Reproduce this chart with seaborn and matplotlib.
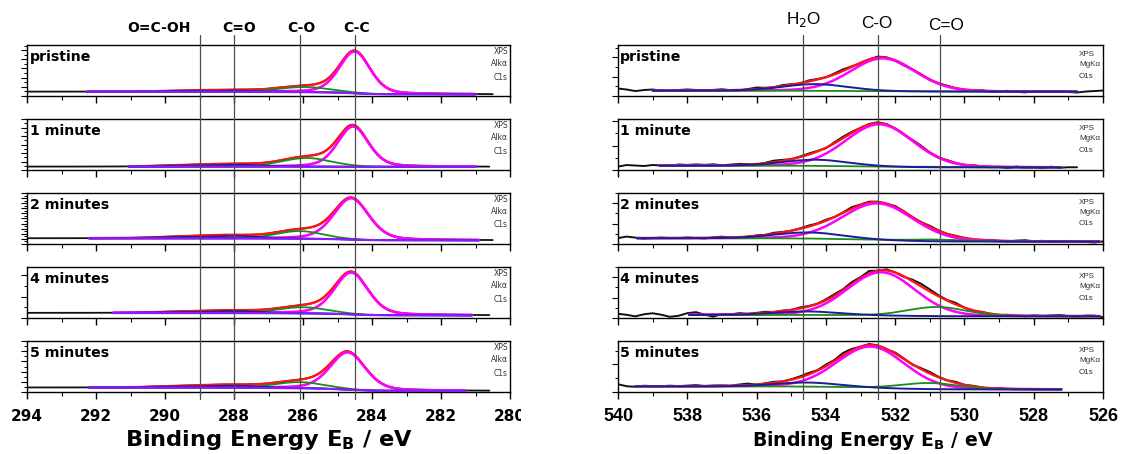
import numpy as np
import matplotlib
matplotlib.use("Agg")
import matplotlib.pyplot as plt
import seaborn as sns
from matplotlib.ticker import MultipleLocator
from matplotlib.transforms import blended_transform_factory
from matplotlib.patches import Rectangle

sns.set_theme(style="ticks")
plt.rcParams["font.family"] = ["DejaVu Sans"]
plt.rcParams["mathtext.fontset"] = "dejavusans"
plt.rcParams["text.color"] = "black"
plt.rcParams["axes.labelcolor"] = "black"
plt.rcParams["xtick.color"] = "black"
plt.rcParams["ytick.color"] = "black"
plt.rcParams["xtick.labelcolor"] = "black"

samples = ["pristine", "1 minute", "2 minutes", "4 minutes", "5 minutes"]

# ---------------- C 1s (Al Kα) ----------------
c1s_ticks = [294, 292, 290, 288, 286, 284, 282, 280]
c1s_refs = [289.0, 288.0, 286.1, 284.5]
c1s_ref_names = ["O=C-OH", "C=O", "C-O", "C-C"]

c1s_data_lo = [280.5, 280.6, 280.5, 280.6, 280.6]
c1s_data_hi = [294.0, 294.0, 294.0, 294.0, 294.0]
c1s_fit_lo = [281.0, 281.0, 280.9, 281.1, 281.3]
c1s_fit_hi = [292.25, 291.05, 292.2, 291.5, 292.2]
c1s_bg_high = [0.085, 0.066, 0.112, 0.100, 0.088]
c1s_bg_low = [0.032, 0.062, 0.072, 0.052, 0.022]

c1s_cc_center = [284.50, 284.55, 284.60, 284.60, 284.70]
c1s_cc_fwhm = [1.05, 1.05, 1.20, 1.15, 1.20]
c1s_cc_height = [0.82, 0.79, 0.81, 0.82, 0.73]
c1s_co_center = [285.95, 285.90, 286.10, 286.00, 286.10]
c1s_co_fwhm = [1.8, 1.7, 1.6, 1.7, 1.7]
c1s_co_height = [0.10, 0.17, 0.15, 0.12, 0.12]
c1s_cdo_center = [287.9, 287.9, 288.0, 288.0, 288.0]
c1s_cdo_fwhm = [1.6, 1.8, 1.8, 1.8, 1.8]
c1s_cdo_height = [0.025, 0.040, 0.050, 0.040, 0.045]
c1s_cooh_center = [289.0, 289.2, 289.3, 289.3, 289.3]
c1s_cooh_fwhm = [1.8, 2.0, 2.0, 2.0, 2.0]
c1s_cooh_height = [0.020, 0.025, 0.030, 0.020, 0.025]

# ---------------- O 1s (Mg Kα) ----------------
o1s_ticks = [540, 538, 536, 534, 532, 530, 528, 526]
o1s_refs = [534.65, 532.5, 530.7]

o1s_data_lo = [526.0, 526.6, 526.0, 526.0, 527.2]
o1s_data_hi = [540.0, 540.0, 540.0, 540.0, 540.0]
o1s_fit_lo = [526.75, 527.2, 526.1, 526.1, 527.2]
o1s_fit_hi = [539.0, 538.8, 539.45, 537.95, 539.5]
o1s_bg_high = [0.105, 0.085, 0.113, 0.060, 0.110]
o1s_bg_low = [0.085, 0.050, 0.047, 0.033, 0.050]

o1s_co_center = [532.35, 532.45, 532.50, 532.40, 532.70]
o1s_co_fwhm = [2.2, 2.3, 2.4, 2.3, 2.3]
o1s_co_height = [0.645, 0.83, 0.72, 0.85, 0.81]
o1s_h2o_center = [534.30, 534.30, 534.50, 534.55, 534.55]
o1s_h2o_fwhm = [2.2, 2.2, 2.3, 2.2, 2.2]
o1s_h2o_height = [0.13, 0.12, 0.12, 0.07, 0.08]
o1s_cdo_center = [530.7, 530.8, 530.8, 530.8, 531.0]
o1s_cdo_fwhm = [2.0, 2.0, 2.2, 2.0, 2.0]
o1s_cdo_height = [0.008, 0.010, 0.035, 0.18, 0.12]

# measured-minus-fit scatter of the O 1s counts, 0.25 eV steps from 540 eV down
o1s_residual = [
    [0.04, 0.02, -0.01, 0.01, 0.02, 0.00, -0.01, 0.01, 0.02, 0.01,
     0.00, 0.01, 0.02, 0.00, -0.01, 0.01, 0.03, 0.01, 0.00, 0.02,
     0.01, -0.01, 0.02, 0.01, 0.00, 0.02, 0.03, 0.01, -0.01, 0.00,
     0.02, 0.01, -0.01, -0.02, 0.00, 0.01, -0.01, 0.00, 0.01, 0.00,
     -0.01, 0.00, 0.01, -0.01, 0.00, 0.01, -0.01, -0.02, 0.00, 0.01,
     -0.01, 0.00, -0.01, -0.02, 0.00, 0.01, 0.02],
    [-0.02, 0.01, 0.00, -0.01, 0.01, 0.00, -0.01, 0.02, 0.01, 0.02,
     0.01, 0.02, 0.00, 0.01, 0.02, 0.01, -0.01, 0.01, 0.03, 0.02,
     0.00, 0.01, 0.02, 0.01, -0.01, 0.02, 0.03, 0.02, 0.00, 0.01,
     0.02, 0.01, 0.00, -0.01, 0.01, 0.02, 0.00, -0.01, 0.01, 0.00,
     -0.01, 0.01, 0.00, -0.01, 0.00, -0.02, 0.01, -0.01, 0.00, -0.02,
     0.01, -0.01, 0.00, 0.00, 0.00, 0.00, 0.00],
    [0.00, 0.03, 0.01, -0.01, 0.00, 0.01, 0.00, 0.00, 0.01, 0.00,
     -0.01, 0.01, 0.02, 0.00, -0.01, 0.00, 0.01, 0.00, 0.02, 0.01,
     0.00, 0.01, 0.02, 0.01, 0.02, 0.00, 0.01, 0.03, 0.01, 0.02,
     0.01, 0.00, 0.02, 0.01, -0.01, 0.00, 0.02, 0.01, 0.00, 0.01,
     0.00, -0.01, 0.00, 0.01, 0.00, -0.01, 0.01, 0.02, 0.00, 0.01,
     -0.01, 0.00, 0.01, 0.00, -0.01, -0.02, 0.00],
    [0.02, 0.00, -0.03, 0.01, 0.03, 0.00, -0.04, -0.02, 0.03, 0.05,
     0.00, -0.04, 0.01, 0.00, 0.02, 0.00, 0.01, 0.02, 0.00, 0.01,
     0.00, 0.02, 0.01, 0.00, 0.02, 0.03, 0.02, 0.04, 0.02, 0.05,
     0.00, 0.02, 0.00, -0.01, 0.03, 0.05, 0.04, 0.02, 0.01, 0.03,
     0.00, -0.01, 0.01, 0.00, -0.01, 0.01, 0.00, -0.01, 0.01, 0.00,
     0.01, 0.02, 0.00, -0.01, 0.01, 0.01, -0.02],
    [0.04, 0.00, -0.01, 0.01, 0.00, 0.00, 0.01, 0.00, 0.01, 0.02,
     0.00, 0.01, 0.01, 0.00, 0.02, 0.03, 0.00, 0.01, 0.02, 0.00,
     0.01, 0.02, 0.03, 0.01, 0.03, 0.02, 0.05, 0.03, 0.00, 0.02,
     0.01, -0.01, 0.02, 0.01, -0.01, 0.02, 0.03, 0.01, 0.00, 0.02,
     0.00, 0.01, 0.00, -0.01, 0.01, 0.00, 0.00, 0.00, 0.00, 0.00,
     0.00, 0.00, 0.00, 0.00, 0.00, 0.00, 0.00],
]

c1s_ystep = [0.18, 0.166, 0.10, 0.42, 0.20]
o1s_ystep = [0.38, 0.48, 0.40, 0.40, 0.54]

COL = dict(data="#111111", env="#ff1414", main="#ff00ff", green="#1a8c1a",
           blue="#1c1c96", purple="#8a1aff")

W, H = 1121, 454
fig = plt.figure(figsize=(W / 100, H / 100), dpi=100)
fig.patch.set_facecolor("white")

tops = [45, 119, 193, 267, 341]
ph = 51
cols = {"c1s": (27, 483), "o1s": (618, 485)}


def peak(x, c, w, h, m):
    u = (x - c) / w
    return h * ((1 - m) * np.exp(-4 * np.log(2) * u ** 2) + m / (1 + 4 * u ** 2))


def shirley(signal, b_low, b_high):
    cum = np.cumsum(signal)
    return b_low + (b_high - b_low) * cum / cum[-1]


def style_axes(ax, xlim, ticks, ystep, last, fam, tsize, pad):
    ax.set_xlim(*xlim)
    ax.set_ylim(0, 1)
    ax.set_facecolor("white")
    for s in ax.spines.values():
        s.set_visible(True)
        s.set_color("black")
        s.set_linewidth(1.0)
    ax.set_xticks(ticks)
    if last:
        ax.set_xticklabels([str(t) for t in ticks], fontsize=tsize,
                           fontweight="bold", family=fam, color="black")
    else:
        ax.set_xticklabels([])
    ax.xaxis.set_minor_locator(MultipleLocator(1))
    ax.yaxis.set_major_locator(MultipleLocator(ystep))
    ax.yaxis.set_minor_locator(MultipleLocator(ystep / 2))
    ax.tick_params(axis="x", which="major", direction="out", length=5,
                   width=1.0, color="black", bottom=True, top=False, pad=pad)
    ax.tick_params(axis="x", which="minor", direction="out", length=3,
                   width=0.8, color="black", bottom=True, top=False)
    ax.tick_params(axis="y", which="major", direction="out", length=4,
                   width=0.8, color="black", left=True, labelleft=False)
    ax.tick_params(axis="y", which="minor", direction="out", length=2,
                   width=0.7, color="black", left=True)
    ax.set_xlabel("")
    ax.set_ylabel("")
    ax.grid(False)


def line(ax, x, y, color, lw, z):
    sns.lineplot(x=x, y=y, ax=ax, color=color, linewidth=lw, zorder=z,
                 sort=False, estimator=None)


# ---------------- C 1s column ----------------
x0, w = cols["c1s"]
for i, name in enumerate(samples):
    ax = fig.add_axes([x0 / W, 1 - (tops[i] + ph) / H, w / W, ph / H])
    x = np.round(np.arange(c1s_data_lo[i], c1s_data_hi[i] + 1e-6, 0.05), 3)
    cc = peak(x, c1s_cc_center[i], c1s_cc_fwhm[i], c1s_cc_height[i], 0.3)
    co = peak(x, c1s_co_center[i], c1s_co_fwhm[i], c1s_co_height[i], 0.1)
    cdo = peak(x, c1s_cdo_center[i], c1s_cdo_fwhm[i], c1s_cdo_height[i], 0.1)
    cooh = peak(x, c1s_cooh_center[i], c1s_cooh_fwhm[i], c1s_cooh_height[i], 0.1)
    total = cc + co + cdo + cooh
    bg = shirley(total, c1s_bg_low[i], c1s_bg_high[i])
    env = bg + total
    fit = (x >= c1s_fit_lo[i]) & (x <= c1s_fit_hi[i])
    line(ax, x, env, COL["data"], 1.3, 2)
    xf = x[fit]
    line(ax, xf, env[fit], COL["env"], 1.7, 3)
    line(ax, xf, (bg + cc)[fit], COL["main"], 1.9, 4)
    line(ax, xf, (bg + co)[fit], COL["green"], 1.3, 5)
    line(ax, xf, (bg + cdo)[fit], COL["blue"], 1.2, 5)
    line(ax, xf, (bg + cooh)[fit], COL["blue"], 1.2, 5)
    line(ax, xf, bg[fit], COL["purple"], 1.6, 6)
    style_axes(ax, (294, 280), c1s_ticks, c1s_ystep[i], i == 4,
               "DejaVu Sans", 11, 7.5)
    ax.text(3 / w, 1 - 5 / ph, name, transform=ax.transAxes, ha="left",
            va="top", fontsize=10.2, fontweight="bold", color="black", zorder=8)
    for k, s in enumerate(["XPS", "Alkα", "C1s"]):
        ax.text(1 - 2 / w, 1 - (6 + 13 * k) / ph, s, transform=ax.transAxes,
                ha="right", va="center", fontsize=5.5, color="#333333", zorder=8)

# ---------------- O 1s column ----------------
x0, w = cols["o1s"]
for i, name in enumerate(samples):
    ax = fig.add_axes([x0 / W, 1 - (tops[i] + ph) / H, w / W, ph / H])
    x = np.round(526.0 + 0.05 * np.arange(281), 3)
    co = peak(x, o1s_co_center[i], o1s_co_fwhm[i], o1s_co_height[i], 0.1)
    h2o = peak(x, o1s_h2o_center[i], o1s_h2o_fwhm[i], o1s_h2o_height[i], 0.1)
    cdo = peak(x, o1s_cdo_center[i], o1s_cdo_fwhm[i], o1s_cdo_height[i], 0.1)
    total = co + h2o + cdo
    bg = shirley(total, o1s_bg_low[i], o1s_bg_high[i])
    env = bg + total
    # measured counts every 0.25 eV (every fifth grid point), high BE first
    idx = np.arange(280, -1, -5)
    xm = x[idx]
    ym = env[idx] + np.array(o1s_residual[i])
    keep = (xm >= o1s_data_lo[i] - 1e-6) & (xm <= o1s_data_hi[i] + 1e-6)
    line(ax, xm[keep], ym[keep], COL["data"], 1.4, 2)
    fit = (x >= o1s_fit_lo[i]) & (x <= o1s_fit_hi[i])
    xf = x[fit]
    line(ax, xf, env[fit], COL["env"], 1.7, 3)
    line(ax, xf, (bg + co)[fit], COL["main"], 1.8, 4)
    line(ax, xf, (bg + cdo)[fit], COL["green"], 1.3, 5)
    line(ax, xf, (bg + h2o)[fit], COL["blue"], 1.4, 6)
    style_axes(ax, (540, 526), o1s_ticks, o1s_ystep[i], i == 4,
               "Liberation Sans", 13, 6.5)
    ax.text(2 / w, 1 - 5 / ph, name, transform=ax.transAxes, ha="left",
            va="top", fontsize=10.2, fontweight="bold", color="black", zorder=8)
    for k, s in enumerate(["XPS", "MgKα", "O1s"]):
        ax.text((1079 - x0) / w, 1 - (9 + 11 * k) / ph, s,
                transform=ax.transAxes, ha="left", va="center",
                fontsize=5.8, color="#333333", family="Liberation Sans", zorder=8)

# ---------------- reference lines and peak labels ----------------
line_top, line_bot = 35, 400
for key, xlim, refs in [("c1s", (294, 280), c1s_refs), ("o1s", (540, 526), o1s_refs)]:
    x0, w = cols[key]
    ov = fig.add_axes([x0 / W, 1 - line_bot / H, w / W, (line_bot - line_top) / H],
                      zorder=5)
    ov.set_xlim(*xlim)
    ov.set_ylim(0, 1)
    ov.axis("off")
    ov.patch.set_alpha(0)
    for r in refs:
        ov.axvline(r, color="#4d4d4d", linewidth=0.9)

tr_l = blended_transform_factory(fig.axes[-2].transData, fig.transFigure)
c1s_label_x = [290.17, 287.86, 286.04, 284.45]
for xl, lab in zip(c1s_label_x, c1s_ref_names):
    fig.text(xl, 1 - 32 / H, lab, transform=tr_l, ha="center", va="baseline",
             fontsize=10, fontweight="bold", color="black")

tr_r = blended_transform_factory(fig.axes[-1].transData, fig.transFigure)
o1s_label_x = [534.63, 532.52, 530.53]
o1s_label_y = [24, 27.5, 30.5]
for xl, yl, lab in zip(o1s_label_x, o1s_label_y, ["H$_2$O", "C-O", "C=O"]):
    fig.text(xl, 1 - yl / H, lab, transform=tr_r, ha="center", va="baseline",
             fontsize=12.3, color="black", family="Liberation Sans")

# axis titles
fig.text(269 / W, 1 - 446 / H, r"Binding Energy $\mathbf{E}_\mathbf{B}$ / eV",
         ha="center", va="baseline", fontsize=16.2, fontweight="bold", color="black")
fig.text(873 / W, 1 - 446 / H, r"Binding Energy $\mathbf{E}_\mathbf{B}$ / eV",
         ha="center", va="baseline", fontsize=13.6, fontweight="bold", color="black")

# the C 1s tick row is cut at the edge of its column
fig.add_artist(Rectangle((521 / W, 1 - 425 / H), 80 / W, 25 / H,
                         transform=fig.transFigure, facecolor="white",
                         edgecolor="none", zorder=20))

fig.savefig("out.png", dpi=100, facecolor="white")
